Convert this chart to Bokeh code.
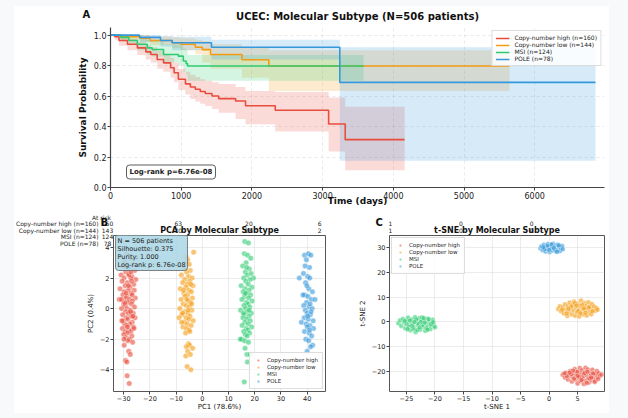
from bokeh.plotting import figure
from bokeh.layouts import column, row
from bokeh.models import (Range1d, FixedTicker, Label, PrintfTickFormatter,
                          CustomJSTickFormatter)
from bokeh.core.properties import value
from bokeh.embed import file_html
from bokeh.resources import INLINE

FONT = "DejaVu Sans"

groups = ["Copy-number high", "Copy-number low", "MSI", "POLE"]
group_n = [160, 144, 124, 78]
colors = ["#e74c3c", "#f39c12", "#2ecc71", "#3498db"]

# ---------------- Kaplan-Meier data ----------------
km_high_t = [0, 60, 120, 240, 380, 500, 570, 660, 750, 850, 900, 960, 1060, 1130,
             1200, 1270, 1340, 1435, 1530, 1770, 1910, 2330, 3085, 3320]
km_high_s = [1.0, 0.99, 0.965, 0.94, 0.916, 0.89, 0.873, 0.84, 0.818, 0.786, 0.753, 0.71,
             0.68, 0.66, 0.645, 0.63, 0.617, 0.60, 0.583, 0.568, 0.536, 0.507, 0.417, 0.314]
km_high_lo = [1.0, 0.97, 0.93, 0.90, 0.87, 0.84, 0.82, 0.78, 0.76, 0.72, 0.69, 0.64,
              0.61, 0.58, 0.565, 0.55, 0.535, 0.515, 0.49, 0.45, 0.415, 0.367, 0.236, 0.114]
km_high_hi = [1.0, 1.0, 0.99, 0.975, 0.955, 0.935, 0.92, 0.895, 0.875, 0.85, 0.82, 0.78,
              0.76, 0.74, 0.725, 0.71, 0.70, 0.69, 0.68, 0.66, 0.634, 0.627, 0.59, 0.53]
km_high_end = 4160

km_low_t = [0, 150, 420, 560, 870, 990, 1200, 1300, 1415, 1860, 2240]
km_low_s = [1.0, 0.99, 0.98, 0.965, 0.95, 0.94, 0.92, 0.905, 0.873, 0.838, 0.797]
km_low_lo = [1.0, 0.97, 0.955, 0.935, 0.915, 0.90, 0.875, 0.82, 0.78, 0.72, 0.634]
km_low_hi = [1.0, 1.0, 1.0, 0.99, 0.985, 0.98, 0.97, 0.96, 0.94, 0.92, 0.90]
km_low_end = 5643

km_msi_t = [0, 140, 260, 380, 520, 590, 750, 960, 1030, 1070, 1090]
km_msi_s = [1.0, 0.985, 0.965, 0.94, 0.916, 0.906, 0.873, 0.862, 0.83, 0.813, 0.797]
km_msi_lo = [1.0, 0.96, 0.935, 0.90, 0.87, 0.86, 0.82, 0.80, 0.76, 0.74, 0.70]
km_msi_hi = [1.0, 1.0, 0.995, 0.985, 0.97, 0.96, 0.94, 0.935, 0.91, 0.90, 0.87]
km_msi_end = 3580

km_pole_t = [0, 410, 707, 872, 1428, 3243]
km_pole_s = [1.0, 0.985, 0.965, 0.95, 0.92, 0.69]
km_pole_lo = [1.0, 0.955, 0.925, 0.90, 0.84, 0.175]
km_pole_hi = [1.0, 1.0, 0.995, 0.99, 0.97, 0.92]
km_pole_end = 6860

km_x_max = 6987
km_x_ticks = [0, 1000, 2000, 3000, 4000, 5000, 6000]
km_y_ticks = [0.0, 0.2, 0.4, 0.6, 0.8, 1.0]

# at-risk table (visible entries only; None = hidden in the picture)
risk_days = [0, 1000, 2000, 3000, 4000, 5000, 6000]
risk_high = [160, 63, 20, 6, 1, 0, 0]
risk_low = [143, 70, 25, 2, 1, 0, 0]
risk_msi = [124, None, None, None, None, None, None]
risk_pole = [78, None, None, None, None, None, None]

# ---------------- PCA points ----------------
pca_high = [(-28.9,3.6),(-27.4,3.3),(-29.6,3.1),(-26.5,2.9),(-30.1,2.8),(-27.9,2.7),(-25.8,2.5),
    (-29.2,2.4),(-28.1,2.3),(-31.0,2.2),(-26.9,2.1),(-29.9,2.0),(-27.3,2.0),(-25.4,1.9),(-30.6,1.8),
    (-28.6,1.7),(-26.2,1.6),(-29.4,1.5),(-27.6,1.4),(-31.4,1.3),(-28.3,1.2),(-26.0,1.2),(-29.8,1.1),
    (-27.1,1.0),(-30.3,0.9),(-28.8,0.8),(-25.6,0.7),(-29.1,0.7),(-27.8,0.6),(-31.7,0.6),(-26.7,0.5),
    (-28.4,0.4),(-30.0,0.3),(-27.0,0.3),(-29.5,0.2),(-25.9,0.1),(-28.7,0.0),(-30.8,0.0),(-27.5,-0.1),
    (-29.3,-0.2),(-26.4,-0.3),(-28.2,-0.3),(-30.4,-0.4),(-27.2,-0.5),(-29.0,-0.6),(-25.7,-0.6),
    (-28.5,-0.7),(-30.2,-0.8),(-26.8,-0.9),(-29.7,-1.0),(-27.7,-1.0),(-28.9,-1.1),(-26.3,-1.2),
    (-30.5,-1.3),(-28.0,-1.4),(-29.4,-1.5),(-27.3,-1.5),(-28.6,-1.6),(-30.0,-1.7),(-26.9,-1.8),
    (-29.2,-1.9),(-27.8,-2.0),(-28.4,-2.1),(-26.6,-2.2),(-29.8,-2.4),(-28.1,-2.8),(-27.5,-3.0),
    (-29.3,-3.4),(-28.8,-3.5),(-28.7,-4.4),(-27.9,-4.9),(-28.2,1.5),(-26.8,0.9),(-29.6,0.4),
    (-27.4,-0.2),(-30.7,-0.8),(-26.1,-1.3),(-28.0,2.2),(-29.1,1.0),(-26.5,-0.5),(-30.9,0.6),
    (-27.0,1.8),(-28.6,-1.2),(-29.9,-2.0),(-27.2,2.4)]
pca_low = [(-3.3,3.7),(-5.6,3.2),(-6.4,3.0),(-5.0,2.9),(-7.1,2.7),(-4.6,2.5),(-6.0,2.4),(-8.0,2.2),
    (-5.3,2.1),(-3.9,2.0),(-6.8,1.9),(-4.9,1.8),(-7.5,1.7),(-5.8,1.6),(-3.6,1.5),(-6.3,1.4),(-8.4,1.3),
    (-5.1,1.2),(-4.2,1.1),(-7.0,1.0),(-5.7,0.9),(-6.6,0.8),(-3.8,0.7),(-8.1,0.6),(-5.4,0.5),(-4.5,0.4),
    (-7.3,0.3),(-6.1,0.2),(-5.0,0.1),(-8.6,0.0),(-4.0,-0.1),(-6.7,-0.2),(-5.5,-0.3),(-7.8,-0.4),
    (-4.7,-0.5),(-6.2,-0.6),(-8.9,-0.6),(-5.2,-0.7),(-3.5,-0.8),(-6.9,-0.9),(-5.8,-1.0),(-4.3,-1.1),
    (-7.4,-1.2),(-6.0,-1.3),(-5.1,-1.4),(-4.8,-1.5),(-6.4,-1.6),(-7.6,-0.3),(-5.9,0.6),(-4.4,1.6),
    (-6.5,2.6),(-7.9,-0.9),(-5.3,-2.3),(-4.9,-2.4),(-6.1,-2.5),(-3.7,-2.6),(-5.6,-2.8),(-4.6,-3.0),
    (-6.3,-3.1),(-5.8,-3.8),(-4.4,-4.0),(-6.2,3.4),(-4.1,0.3),(-7.2,1.2),(-5.4,-0.1)]
pca_msi = [(16.2,4.4),(17.6,4.3),(16.0,3.6),(17.3,3.5),(18.5,3.3),(16.7,3.0),(15.4,2.8),(17.9,2.6),
    (16.4,2.4),(19.5,2.0),(17.1,2.2),(15.8,2.0),(18.2,1.9),(16.6,1.8),(17.5,1.6),(14.8,1.5),(18.9,1.4),
    (16.3,1.3),(17.8,1.2),(15.6,1.1),(17.0,1.0),(18.4,0.9),(16.1,0.8),(17.7,0.7),(15.1,0.6),(19.0,0.5),
    (16.8,0.4),(17.4,0.3),(15.9,0.2),(18.1,0.1),(16.5,0.0),(14.6,-0.1),(17.2,-0.2),(18.7,-0.3),
    (16.0,-0.4),(17.8,-0.5),(15.5,-0.6),(16.9,-0.7),(18.3,-0.8),(16.2,-0.9),(17.5,-1.0),(15.2,-1.1),
    (18.8,-1.2),(16.7,-1.3),(17.3,-1.4),(15.8,-1.5),(18.0,-1.6),(16.4,-1.7),(17.1,-1.8),(15.0,-2.0),
    (16.1,-2.1),(17.6,-2.2),(14.5,-2.0),(16.3,-2.6),(17.0,-3.0),(18.1,-3.0),(17.2,-3.5),(16.0,-4.8),
    (16.9,2.7),(17.9,-0.1),(16.4,1.0),(18.6,2.3),(15.7,-0.3)]
pca_pole = [(39.0,3.5),(40.5,3.6),(41.4,3.5),(39.7,3.2),(40.9,2.7),(38.6,2.3),(37.0,2.0),(40.2,2.1),
    (41.0,2.0),(39.4,1.7),(40.6,1.3),(42.0,1.1),(39.1,0.9),(40.3,0.8),(41.6,0.6),(43.0,0.6),(39.8,0.4),
    (38.7,0.2),(40.7,0.1),(41.9,0.0),(39.3,-0.1),(40.0,-0.3),(41.2,-0.4),(38.9,-0.6),(40.4,-0.7),
    (42.3,-0.8),(37.8,-0.9),(39.6,-1.0),(41.0,-1.1),(40.1,-1.2),(42.4,-1.3),(39.0,-1.5),(40.8,-1.6),
    (41.7,-1.8),(39.5,-2.0),(40.6,-2.1),(42.1,-2.4),(41.3,-2.5),(40.0,-2.8),(39.9,1.5),(41.5,-0.2),
    (38.4,0.9),(40.9,-1.4),(39.2,2.8),(41.1,0.3),(40.2,-0.5)]
pca_x_ticks = [-30, -20, -10, 0, 10, 20, 30, 40]
pca_y_ticks = [-4, -2, 0, 2, 4]

# ---------------- t-SNE points ----------------
tsne_high = [(2.4,-21.5),(2.8,-22.6),(3.0,-20.6),(3.3,-23.4),(3.5,-21.9),(3.7,-19.9),(4.0,-24.2),
    (4.1,-22.3),(4.3,-20.8),(4.5,-19.1),(4.6,-23.5),(4.8,-21.6),(5.0,-25.0),(5.1,-20.1),(5.2,-22.8),
    (5.4,-18.7),(5.5,-24.1),(5.6,-21.2),(5.8,-19.6),(5.9,-23.1),(6.0,-22.0),(6.1,-25.2),(6.3,-20.5),
    (6.4,-18.6),(6.5,-23.9),(6.6,-21.7),(6.8,-19.3),(6.9,-22.9),(7.0,-24.6),(7.2,-20.7),(7.3,-21.9),
    (7.5,-23.7),(7.6,-19.4),(7.8,-22.5),(7.9,-20.9),(8.1,-23.8),(8.2,-21.3),(8.4,-19.9),(8.5,-22.4),
    (8.7,-20.9),(8.9,-22.0),(9.2,-21.4),(3.1,-22.0),(3.9,-21.2),(4.4,-23.0),(4.9,-20.3),(5.3,-22.4),
    (5.7,-23.6),(6.2,-20.9),(6.7,-20.2),(7.1,-23.0),(7.7,-21.0),(8.0,-24.4),(4.2,-19.8),(6.6,-24.8),
    (5.0,-21.9),(3.6,-20.6),(7.4,-22.6),(8.6,-23.2),(2.7,-20.9)]
tsne_low = [(1.6,5.2),(1.9,6.3),(2.1,4.3),(2.4,5.9),(2.6,3.4),(2.8,7.1),(3.0,5.0),(3.2,2.4),(3.3,6.4),
    (3.5,4.1),(3.6,7.8),(3.8,5.5),(4.0,3.0),(4.1,6.9),(4.3,4.6),(4.4,8.2),(4.6,2.5),(4.7,5.8),(4.9,3.8),
    (5.0,7.3),(5.2,5.0),(5.3,2.2),(5.4,6.4),(5.6,8.6),(5.7,4.2),(5.9,5.7),(6.0,3.0),(6.2,7.6),(6.3,4.9),
    (6.5,6.5),(6.6,2.6),(6.8,5.3),(6.9,7.9),(7.1,4.0),(7.2,6.1),(7.4,3.1),(7.5,7.2),(7.7,5.0),(7.9,6.2),
    (8.1,4.5),(8.3,5.6),(8.5,4.9),(2.3,4.9),(3.1,3.4),(3.9,6.2),(4.5,7.5),(5.1,4.3),(5.8,6.9),(6.4,3.7),
    (7.0,5.9),(7.6,4.3),(4.8,6.6),(3.4,5.3),(6.1,5.5),(5.5,3.4)]
tsne_msi = [(-26.4,-0.6),(-26.1,0.6),(-25.9,-1.7),(-25.6,1.1),(-25.4,-0.3),(-25.2,-2.6),(-24.9,0.2),
    (-24.7,1.7),(-24.5,-1.2),(-24.3,-3.4),(-24.1,0.9),(-23.9,-0.5),(-23.7,-2.2),(-23.5,1.9),(-23.4,-4.1),
    (-23.2,0.3),(-23.0,-1.4),(-22.8,1.4),(-22.6,-3.2),(-22.5,-0.2),(-22.3,1.8),(-22.1,-2.0),(-21.9,0.6),
    (-21.7,-3.6),(-21.6,-0.9),(-21.4,1.2),(-21.2,-1.9),(-21.0,0.0),(-20.8,-2.9),(-20.6,-0.6),(-20.4,0.8),
    (-20.2,-1.6),(-20.0,-2.2),(-25.0,-0.9),(-24.4,0.5),(-23.8,-2.8),(-23.3,1.0),(-22.9,-0.8),(-22.2,-1.3),
    (-21.5,-2.6),(-21.1,1.1),(-20.7,-1.1),(-24.6,-2.0),(-23.1,-3.3),(-22.4,0.1),(-25.3,0.4),(-22.7,-2.4),
    (-21.8,-0.3),(-24.0,-1.6),(-20.3,-0.2),(-23.6,-0.1),(-22.0,1.5),(-24.8,-3.0),(-21.3,-3.2)]
tsne_pole = [(-1.5,29.8),(-1.3,30.6),(-1.1,29.0),(-0.9,31.2),(-0.7,30.1),(-0.6,28.5),(-0.4,29.5),
    (-0.2,31.6),(-0.1,30.5),(0.1,28.3),(0.2,29.8),(0.3,31.0),(0.5,30.3),(0.6,28.9),(0.7,31.7),(0.9,29.6),
    (1.0,30.8),(1.2,28.6),(1.3,30.1),(1.5,31.3),(1.6,29.3),(1.8,30.5),(1.9,28.7),(2.1,29.9),(2.3,30.7),
    (2.4,29.4),(-0.8,29.4),(0.0,29.2),(0.4,31.4),(1.1,29.1),(1.7,31.0),(-0.3,30.9),(0.8,30.0),(1.4,28.4),
    (-1.0,30.3)]
tsne_x_ticks = [-25, -20, -15, -10, -5, 0, 5, 10]
tsne_y_ticks = [-20, -10, 0, 10, 20, 30]

info_lines = ["N = 506 patients", "Silhouette: 0.375", "Purity: 1.000", "Log-rank p: 6.76e-08"]
logrank_text = "Log-rank p=6.76e-08"

# ---------------- helpers ----------------
MINUS = CustomJSTickFormatter(code="return tick < 0 ? '\u2212' + Math.abs(tick) : String(tick);")


def style_axes(p, tick_size, label_size, label_style, label_standoff):
    for ax in (p.xaxis[0], p.yaxis[0]):
        ax.major_label_text_font = FONT
        ax.major_label_text_font_size = tick_size
        ax.major_label_text_color = "#222222"
        ax.axis_label_text_font = FONT
        ax.axis_label_text_font_size = label_size
        ax.axis_label_text_font_style = label_style
        ax.axis_label_text_color = "#111111"
        ax.minor_tick_line_color = None
        ax.major_tick_in = 0
        ax.major_tick_out = 3
        ax.major_tick_line_color = "#444444"
        ax.major_label_standoff = 1
        ax.axis_label_standoff = label_standoff


def frame_label(p, frame_left, frame_bottom, x, y_top, text, size, bold=False,
                align="left", baseline="middle", **kw):
    """Text at canvas position (x, y_top from the canvas top-left); Bokeh's screen
    units are relative to the plot frame (origin bottom-left)."""
    lab = Label(x=x - frame_left, y=frame_bottom - y_top, x_units="screen", y_units="screen",
                text=text, text_font=FONT, text_font_size=size,
                text_font_style="bold" if bold else "normal",
                text_align=align, text_baseline=baseline,
                text_color=kw.pop("text_color", "#222222"), **kw)
    p.add_layout(lab)
    return lab


# ---------------- Panel A: Kaplan-Meier ----------------
KM_W, KM_H = 595, 203
KM_L, KM_R, KM_T, KM_B = 96, 5, 21, 22
km = figure(width=KM_W, height=KM_H, x_range=Range1d(0, km_x_max), y_range=Range1d(0, 1.05),
            output_backend="svg", toolbar_location=None,
            min_border_left=KM_L, min_border_right=KM_R, min_border_top=KM_T, min_border_bottom=KM_B,
            title="UCEC: Molecular Subtype (N=506 patients)")
km.title.text_font = FONT
km.title.text_font_size = "10px"
km.title.text_font_style = "bold"
km.title.align = "center"
km.title.vertical_align = "top"
km.title.standoff = 7
km.title.text_color = "#111111"
km.outline_line_color = None
km.xaxis.axis_label = "Time (days)"
km.yaxis.axis_label = "Survival Probability"
style_axes(km, "8px", "9px", "bold", -6)
km.yaxis.axis_label_standoff = 3
km.xaxis.ticker = FixedTicker(ticks=km_x_ticks)
km.yaxis.ticker = FixedTicker(ticks=km_y_ticks)
km.yaxis.formatter = PrintfTickFormatter(format="%.1f")
km.xaxis.axis_line_color = "#444444"
km.yaxis.axis_line_color = "#444444"
km.xaxis.axis_line_width = 1.2
km.yaxis.axis_line_width = 1.2
for g in (km.xgrid, km.ygrid):
    g.grid_line_color = "#cccccc"
    g.grid_line_alpha = 0.6
    g.grid_line_dash = "3 3"
    g.grid_line_width = 0.7

km_sets = [
    (km_high_t, km_high_s, km_high_lo, km_high_hi, km_high_end),
    (km_low_t, km_low_s, km_low_lo, km_low_hi, km_low_end),
    (km_msi_t, km_msi_s, km_msi_lo, km_msi_hi, km_msi_end),
    (km_pole_t, km_pole_s, km_pole_lo, km_pole_hi, km_pole_end),
]
for (t, s, lo, hi, end), c in zip(km_sets, colors):
    km.varea_step(x=t + [end], y1=lo + [lo[-1]], y2=hi + [hi[-1]], step_mode="after",
                  fill_color=c, fill_alpha=0.2)
for (t, s, lo, hi, end), c, g, n in zip(km_sets, colors, groups, group_n):
    km.step(x=t + [end], y=s + [s[-1]], mode="after", line_color=c, line_width=1.6,
            legend_label=f"{g} (n={n})")

km.legend.location = "top_right"
km.legend.label_text_font = FONT
km.legend.label_text_font_size = "6px"
km.legend.label_text_color = "#222222"
km.legend.glyph_width = 14
km.legend.glyph_height = 6
km.legend.label_height = 6
km.legend.spacing = 0
km.legend.padding = 3
km.legend.margin = 3
km.legend.border_line_color = "#bbbbbb"
km.legend.background_fill_alpha = 0.85

frame_label(km, KM_L, KM_H - KM_B, 112, 165.5, logrank_text, "7px", bold=True,
            background_fill_color="white", border_line_color="#333333", border_line_width=0.8,
            border_radius=3, padding=3)

# ---------------- Panels B and C ----------------
B_W, B_H, B_L, B_B = 331, 204, 99, 18
pb = figure(width=B_W, height=B_H, x_range=Range1d(-33.9, 47.0), y_range=Range1d(-5.43, 4.79),
            output_backend="svg", toolbar_location=None,
            min_border_left=B_L, min_border_right=20, min_border_top=26, min_border_bottom=B_B,
            title="PCA by Molecular Subtype")
C_W, C_H, C_L, C_B = 264, 204, 44, 18
pc = figure(width=C_W, height=C_H, x_range=Range1d(-27.97, 9.72), y_range=Range1d(-28.25, 35.0),
            output_backend="svg", toolbar_location=None,
            min_border_left=C_L, min_border_right=5, min_border_top=25, min_border_bottom=C_B,
            title="t-SNE by Molecular Subtype")

for p, xl, yl, xt, yt in ((pb, "PC1 (78.6%)", "PC2 (0.4%)", pca_x_ticks, pca_y_ticks),
                          (pc, "t-SNE 1", "t-SNE 2", tsne_x_ticks, tsne_y_ticks)):
    p.title.text_font = FONT
    p.title.text_font_size = "8px"
    p.title.text_font_style = "bold"
    p.title.align = "center"
    p.title.standoff = 2
    p.title.text_color = "#111111"
    p.xaxis.axis_label = xl
    p.yaxis.axis_label = yl
    style_axes(p, "6.5px", "7px", "normal", -1)
    p.yaxis.axis_label_standoff = 2
    p.xaxis.ticker = FixedTicker(ticks=xt)
    p.yaxis.ticker = FixedTicker(ticks=yt)
    p.xaxis.formatter = MINUS
    p.yaxis.formatter = MINUS
    p.xaxis.axis_line_color = None
    p.yaxis.axis_line_color = None
    p.outline_line_color = "#555555"
    p.outline_line_width = 1
    for g in (p.xgrid, p.ygrid):
        g.grid_line_color = "#dddddd"
        g.grid_line_alpha = 0.8
        g.grid_line_width = 0.7

for pts, c, g in zip((pca_high, pca_low, pca_msi, pca_pole), colors, groups):
    xs, ys = zip(*pts)
    pb.scatter(list(xs), list(ys), size=5.5, fill_color=c, fill_alpha=0.6,
               line_color="white", line_width=0.4, legend_label=g)
for pts, c, g in zip((tsne_high, tsne_low, tsne_msi, tsne_pole), colors, groups):
    xs, ys = zip(*pts)
    pc.scatter(list(xs), list(ys), size=5, fill_color=c, fill_alpha=0.6,
               line_color="white", line_width=0.4, legend_label=g)

for p, loc in ((pb, "bottom_right"), (pc, "top_left")):
    p.legend.location = loc
    p.legend.label_text_font = FONT
    p.legend.label_text_font_size = "5.5px"
    p.legend.label_text_color = "#222222"
    p.legend.glyph_width = 8
    p.legend.glyph_height = 6
    p.legend.label_height = 6
    p.legend.spacing = 1
    p.legend.padding = 4
    p.legend.margin = 2
    p.legend.border_line_color = "#bbbbbb"
    p.legend.background_fill_alpha = 0.85

frame_label(pb, B_L, B_H - B_B, 101, 29, "\n".join(info_lines), "6.5px", baseline="top",
            background_fill_color="#add8e6", background_fill_alpha=0.9,
            border_line_color="#666666", border_line_width=0.8, border_radius=3,
            padding=2, text_line_height=1.0)

# ---------------- overlay: panel letters and at-risk table ----------------
# A transparent figure laid over the whole page; its x scale is in days, aligned with
# the Kaplan-Meier time axis, and its y scale is in pixels from the top of the page.
OV_W, OV_H = KM_W, KM_H + B_H
days_per_px = km_x_max / (KM_W - KM_L - KM_R)
ov = figure(width=OV_W, height=OV_H, output_backend="svg", toolbar_location=None,
            x_range=Range1d(-KM_L * days_per_px, (OV_W - KM_L) * days_per_px),
            y_range=Range1d(OV_H, 0), x_axis_location=None, y_axis_location=None,
            min_border_left=0, min_border_right=0, min_border_top=0, min_border_bottom=0)
ov.background_fill_alpha = 0
ov.border_fill_alpha = 0
ov.outline_line_color = None
ov.grid.visible = False

risk_rows = [risk_high, risk_low, risk_msi, risk_pole]
row_y = [217, 223.5, 230, 236.5]          # px from top of the page area
rx, ry, rt = [], [], []
for vals, y in zip(risk_rows, row_y):
    for t, v in zip(risk_days, vals):
        if v is None:
            continue
        rx.append(t)
        ry.append(y)
        rt.append(str(v))
ov.text(x=rx, y=ry, text=rt, text_font=value(FONT), text_font_size="6px",
        text_align="center", text_baseline="middle", text_color="#222222", x_offset=-3)

OV_FB = OV_H  # frame == canvas
frame_label(ov, 0, OV_FB, 87, 211, "At risk", "6px", align="center")
for g, n, y in zip(groups, group_n, row_y):
    frame_label(ov, 0, OV_FB, 84, y, f"{g} (n={n})", "6px", align="right")
frame_label(ov, 0, OV_FB, 68, 8, "A", "10px", bold=True, text_color="#111111")
frame_label(ov, 0, OV_FB, 86, 216, "B", "10px", bold=True, text_color="#111111")
frame_label(ov, 0, OV_FB, 361, 216, "C", "10px", bold=True, text_color="#111111")

inner = column(km, row(pb, pc))
ov_wrap = row(ov, margin=(-OV_H, 0, 0, 0))
page = column(inner, ov_wrap, styles={"background-color": "white"})
layout = column(page, styles={"background-color": "#f8f9fa", "padding": "6px 19px 5px 14px"})
open("out.html", "w").write(file_html(layout, INLINE))
